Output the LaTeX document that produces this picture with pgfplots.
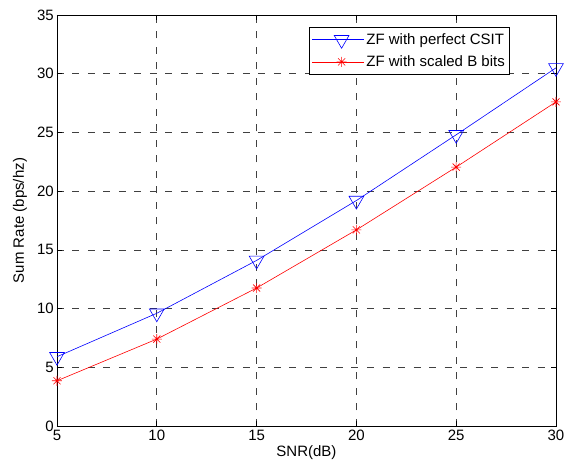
\documentclass[border=0pt]{standalone}
\usepackage{fontspec}
\setmainfont{Liberation Sans}
\usepackage{pgfplots}
\pgfplotsset{compat=1.18}

% MATLAB-style '*' marker: a plus and a cross on top of each other
\pgfdeclareplotmark{mstar}{%
  \pgfpathmoveto{\pgfqpoint{-\pgfplotmarksize}{0pt}}%
  \pgfpathlineto{\pgfqpoint{\pgfplotmarksize}{0pt}}%
  \pgfpathmoveto{\pgfqpoint{0pt}{-\pgfplotmarksize}}%
  \pgfpathlineto{\pgfqpoint{0pt}{\pgfplotmarksize}}%
  \pgfpathmoveto{\pgfqpoint{-0.707\pgfplotmarksize}{-0.707\pgfplotmarksize}}%
  \pgfpathlineto{\pgfqpoint{0.707\pgfplotmarksize}{0.707\pgfplotmarksize}}%
  \pgfpathmoveto{\pgfqpoint{-0.707\pgfplotmarksize}{0.707\pgfplotmarksize}}%
  \pgfpathlineto{\pgfqpoint{0.707\pgfplotmarksize}{-0.707\pgfplotmarksize}}%
  \pgfusepathqstroke}

\begin{document}
\fontsize{15}{18}\selectfont
\begin{tikzpicture}
\path[use as bounding box] (-57pt,-43pt) rectangle (509pt,426pt);
\begin{axis}[
  at={(0,0)}, anchor=south west,
  scale only axis,
  width=499pt, height=411pt,
  xmin=5, xmax=30, ymin=0, ymax=35,
  xtick={5,10,...,30}, ytick={0,5,...,35},
  tick align=inside,
  major tick length=5pt,
  grid=major,
  major grid style={black!75, dash pattern=on 7pt off 8.5pt, line width=0.6pt},
  axis line style={black, line width=0.6pt},
  every tick/.style={black, line width=0.6pt},
  /pgf/number format/assume math mode=true,
  ticklabel style={font=\fontsize{15}{18}\selectfont},
  xticklabel style={yshift=1pt},
  yticklabel style={xshift=2pt},
  xlabel={SNR(dB)},
  ylabel={Sum Rate (bps/hz)},
  label style={font=\fontsize{15}{18}\selectfont},
  xlabel style={yshift=5pt},
  legend style={at={(axis description cs:0.908,0.971)}, anchor=north east,
    draw=black, line width=0.6pt, font=\fontsize{15}{18}\selectfont,
    row sep=5pt, inner xsep=3pt, inner ysep=4pt},
  legend cell align=left,
  legend image code/.code={
    \path (0pt,0pt) -- (52pt,0pt);
    \draw[#1] (7pt,0pt) -- (29.5pt,0pt);
    \draw[#1, mark repeat=2, mark phase=2] plot coordinates {(7pt,0pt) (29.5pt,0pt) (52pt,0pt)};
    \draw[#1] (29.5pt,0pt) -- (52pt,0pt);
  },
]
\addplot[blue, line width=0.6pt, mark=triangle, mark options={rotate=180, solid}, mark size=8.5pt]
  coordinates {(5,5.9) (10,9.6) (15,14.1) (20,19.2) (25,24.8) (30,30.5)};
\addlegendentry{ZF with perfect CSIT}
\addplot[red, line width=0.6pt, mark=mstar, mark size=5pt]
  coordinates {(5,3.85) (10,7.4) (15,11.75) (20,16.7) (25,22.05) (30,27.6)};
\addlegendentry{ZF with scaled B bits}
\end{axis}
\end{tikzpicture}
\end{document}
